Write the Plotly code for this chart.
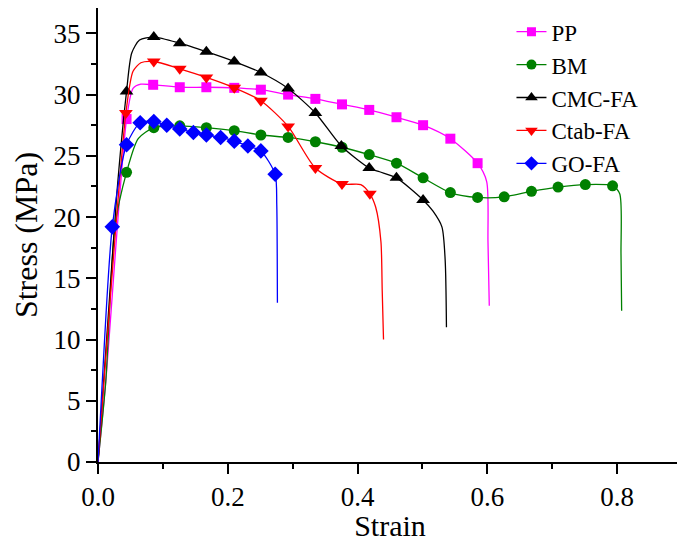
import plotly.graph_objects as go

# ---- data (strain, stress in MPa) ----
names = ["PP", "BM", "CMC-FA", "Ctab-FA", "GO-FA"]
colors = ["#FF00FF", "#008000", "#000000", "#FF0000", "#0000FF"]
symbols = ["square", "circle", "triangle-up", "triangle-down", "diamond"]
msizes = [10, 11, 12, 12, 12]

# marker points
pp_x = [0.044, 0.085, 0.126, 0.167, 0.210, 0.251, 0.293, 0.335, 0.376, 0.418, 0.460, 0.501, 0.543, 0.585]
pp_y = [28.0, 30.8, 30.6, 30.6, 30.55, 30.4, 30.0, 29.65, 29.2, 28.75, 28.15, 27.5, 26.4, 24.4]
bm_x = [0.044, 0.086, 0.126, 0.167, 0.210, 0.251, 0.293, 0.335, 0.376, 0.418, 0.460, 0.501, 0.543,
        0.585, 0.626, 0.668, 0.709, 0.751, 0.793]
bm_y = [23.65, 27.3, 27.45, 27.3, 27.05, 26.7, 26.5, 26.15, 25.7, 25.1, 24.4, 23.2, 22.0,
        21.6, 21.65, 22.1, 22.45, 22.65, 22.55]
cmc_x = [0.044, 0.086, 0.126, 0.167, 0.210, 0.251, 0.293, 0.335, 0.375, 0.418, 0.460, 0.501]
cmc_y = [30.25, 34.7, 34.2, 33.5, 32.7, 31.8, 30.5, 28.5, 25.8, 24.0, 23.2, 21.4]
ctab_x = [0.043, 0.086, 0.126, 0.167, 0.210, 0.251, 0.293, 0.335, 0.376, 0.419]
ctab_y = [28.5, 32.7, 32.1, 31.4, 30.55, 29.5, 27.4, 24.0, 22.7, 21.9]
go_x = [0.022, 0.044, 0.065, 0.086, 0.106, 0.126, 0.147, 0.167, 0.189, 0.210, 0.231, 0.251, 0.273]
go_y = [19.2, 25.9, 27.7, 27.8, 27.5, 27.2, 26.9, 26.7, 26.5, 26.2, 25.8, 25.4, 23.5]

# full curves (continuous stress-strain records)
pp_cx = [0.0, 0.012, 0.044, 0.054, 0.066] + pp_x[1:] + [0.599, 0.601, 0.603]
pp_cy = [0.0, 6.6, 28.0, 30.5, 30.85] + pp_y[1:] + [22.9, 18.0, 12.75]
bm_cx = [0.0, 0.012, 0.026, 0.044, 0.062] + bm_x[1:] + [0.804, 0.806, 0.807]
bm_cy = [0.0, 6.6, 19.2, 23.65, 26.4] + bm_y[1:] + [21.9, 17.0, 12.35]
cmc_cx = [0.0, 0.029, 0.044, 0.052, 0.064] + cmc_x[1:10] + [0.434] + cmc_x[10:] + [0.516, 0.530, 0.535, 0.537]
cmc_cy = [0.0, 21.9, 30.25, 33.4, 34.45] + cmc_y[1:10] + [23.7] + cmc_y[10:] + [20.5, 19.2, 16.5, 11.0]
ctab_cx = [0.0, 0.043, 0.054, 0.066] + ctab_x[1:9] + [0.405] + ctab_x[9:] + [0.428, 0.436, 0.438, 0.440]
ctab_cy = [0.0, 28.5, 31.9, 32.6] + ctab_y[1:9] + [22.65] + ctab_y[9:] + [20.8, 18.0, 14.0, 10.0]
go_cx = [0.0, 0.006] + go_x + [0.2755, 0.2762, 0.2765]
go_cy = [0.0, 6.0] + go_y + [21.0, 17.0, 13.0]

curves = [(pp_cx, pp_cy), (bm_cx, bm_cy), (cmc_cx, cmc_cy), (ctab_cx, ctab_cy), (go_cx, go_cy)]
marks = [(pp_x, pp_y), (bm_x, bm_y), (cmc_x, cmc_y), (ctab_x, ctab_y), (go_x, go_y)]

x_ticks = [0.0, 0.2, 0.4, 0.6, 0.8]
x_ticktext = ["0.0", "0.2", "0.4", "0.6", "0.8"]
y_ticks = [0, 5, 10, 15, 20, 25, 30, 35]

FONT = "Liberation Serif"

fig = go.Figure()
for i, name in enumerate(names):
    cx, cy = curves[i]
    mx, my = marks[i]
    fig.add_trace(go.Scatter(x=cx, y=cy, mode="lines", line=dict(color=colors[i], width=1.3,
                             shape="spline", smoothing=0.7), showlegend=False, hoverinfo="skip"))
    fig.add_trace(go.Scatter(x=mx, y=my, mode="markers", showlegend=False,
                             marker=dict(symbol=symbols[i], color=colors[i], size=msizes[i], line=dict(width=0))))
for i, name in enumerate(names):
    fig.add_trace(go.Scatter(x=[None], y=[None], mode="lines+markers", name=name,
                             line=dict(color=colors[i], width=1.3),
                             marker=dict(symbol=symbols[i], color=colors[i], size=msizes[i] - 1, line=dict(width=0))))

axis_common = dict(showline=True, linewidth=2, linecolor="black", mirror=True, showgrid=False,
                   zeroline=False, ticks="outside", ticklen=10, tickwidth=2, tickcolor="black",
                   automargin=False,
                   tickfont=dict(family=FONT, size=27, color="black"))

fig.update_layout(
    width=677, height=534,
    margin=dict(l=90, r=3, t=0, b=80),
    paper_bgcolor="white", plot_bgcolor="white",
    font=dict(family=FONT, color="black"),
    xaxis=dict(range=[0, 0.9], tickvals=x_ticks, ticktext=x_ticktext,
               minor=dict(dtick=0.1, tick0=0, ticks="outside", ticklen=5, tickwidth=2, tickcolor="black"),
               title=dict(text="Strain", font=dict(family=FONT, size=30, color="black"), standoff=2),
               **axis_common),
    yaxis=dict(range=[0, 37.07], tickvals=y_ticks,
               minor=dict(dtick=2.5, tick0=0, ticks="outside", ticklen=5, tickwidth=2, tickcolor="black"),
               title=dict(text="Stress (MPa)", font=dict(family=FONT, size=32, color="black")),
               **axis_common),
    legend=dict(x=0.708, y=0.995, xanchor="left", yanchor="top", bgcolor="rgba(0,0,0,0)",
                font=dict(family=FONT, size=23, color="black"), tracegroupgap=0, itemwidth=30),
)

fig.write_html("out.html")
